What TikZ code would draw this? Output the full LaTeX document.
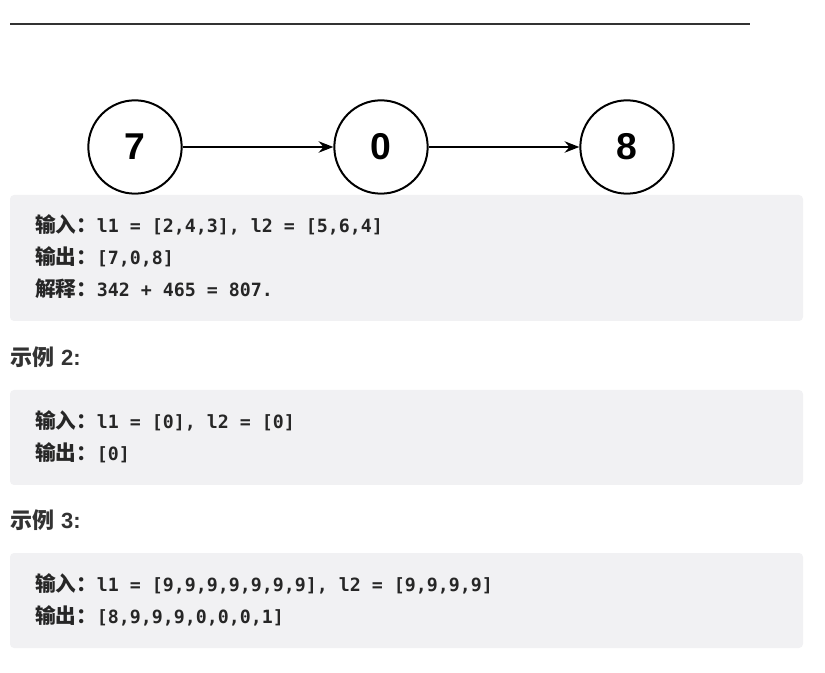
\documentclass[tikz,border=0pt]{standalone}
\usepackage{fontspec}
\setmainfont{Liberation Sans}
\newfontfamily\cjk{Noto Sans CJK SC}
\newfontfamily\codefont{DejaVu Sans Mono}
\usetikzlibrary{arrows.meta}
\definecolor{boxgray}{RGB}{241,241,243}
\definecolor{inkgray}{RGB}{38,38,38}
\definecolor{rulegray}{RGB}{51,51,51}
\newcommand{\codeline}[2]{{\cjk\bfseries\fontsize{15.5}{18}\selectfont #1：}{\codefont\bfseries\fontsize{13.7}{16}\selectfont #2}}

\begin{document}
\begin{tikzpicture}[x=0.75pt,y=-0.75pt,line width=1.5pt,>={Stealth[length=11pt,width=8.5pt]},
  listnode/.style={circle,draw,minimum size=70pt,inner sep=0pt,
    font=\fontsize{28}{30}\selectfont\bfseries},
  codebox/.style={fill=boxgray,rounded corners=3pt},
  codetext/.style={anchor=west,inner sep=0pt,text=inkgray},
  heading/.style={anchor=west,inner sep=0pt,text=rulegray,
    font=\fontsize{16.5}{18}\selectfont\bfseries}]
\useasboundingbox (0,0) rectangle (825,673);
% ================= top rule =================
\draw[rulegray,line width=2.2pt] (10,24) -- (750,24);
% ================= list 7 -> 0 -> 8 =================
\node[listnode] (n7) at (135,147) {7};
\node[listnode] (n0) at (381,147) {0};
\node[listnode] (n8) at (627,147) {8};
\draw[->] (n7) -- (n0);
\draw[->] (n0) -- (n8);
% ================= example 1 =================
\fill[codebox] (10,195) rectangle (803,321);
\node[codetext] (in1) at (34,225) {\codeline{输入}{l1 = [2,4,3], l2 = [5,6,4]}};
\node[codetext] (out1) at (34,257) {\codeline{输出}{[7,0,8]}};
\node[codetext] (why1) at (34,289) {\codeline{解释}{342 + 465 = 807.}};
% ================= example 2 =================
\node[heading] (head2) at (10,357) {{\cjk 示例} 2:};
\fill[codebox] (10,390) rectangle (803,485);
\node[codetext] (in2) at (34,421) {\codeline{输入}{l1 = [0], l2 = [0]}};
\node[codetext] (out2) at (34,453) {\codeline{输出}{[0]}};
% ================= example 3 =================
\node[heading] (head3) at (10,520) {{\cjk 示例} 3:};
\fill[codebox] (10,553) rectangle (803,648);
\node[codetext] (in3) at (34,584) {\codeline{输入}{l1 = [9,9,9,9,9,9,9], l2 = [9,9,9,9]}};
\node[codetext] (out3) at (34,616) {\codeline{输出}{[8,9,9,9,0,0,0,1]}};
\end{tikzpicture}
\end{document}
